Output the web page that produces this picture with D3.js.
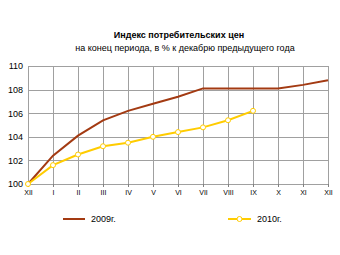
<!DOCTYPE html>
<html>
<head>
<meta charset="utf-8">
<script src="https://cdn.jsdelivr.net/npm/d3@7"></script>
<style>
  body { margin: 0; background: #fff; }
  svg text { font-family: "Liberation Sans", Arial, sans-serif; fill: #000; }
  .grid line { stroke: #a0a0a0; stroke-width: 1; }
  .axis path, .axis line { stroke: #808080; }
</style>
</head>
<body>
<div id="chart"></div>
<script>
var months = ['XII', 'I', 'II', 'III', 'IV', 'V', 'VI', 'VII', 'VIII', 'IX', 'X', 'XI', 'XII'];
var values2009 = [100, 102.4, 104.1, 105.4, 106.2, 106.8, 107.4, 108.1, 108.1, 108.1, 108.1, 108.4, 108.8];
var values2010 = [100, 101.6, 102.5, 103.2, 103.5, 104.0, 104.4, 104.8, 105.4, 106.2];
var yTicks = [100, 102, 104, 106, 108, 110];
var seriesNames = ['2009г.', '2010г.'];

var width = 340, height = 255;
var margin = {top: 66, right: 12, bottom: 71, left: 28};
var plotWidth = width - margin.left - margin.right,
    plotHeight = height - margin.top - margin.bottom;

var svg = d3.select('#chart').append('svg')
    .attr('width', width)
    .attr('height', height);

svg.append('text')
    .attr('x', 179).attr('y', 38)
    .attr('text-anchor', 'middle')
    .style('font-size', '9px')
    .style('font-weight', 'bold')
    .text('Индекс потребительских цен');

svg.append('text')
    .attr('x', 185).attr('y', 51)
    .attr('text-anchor', 'middle')
    .style('font-size', '9px')
    .text('на конец периода, в % к декабрю предыдущего года');

var g = svg.append('g')
    .attr('transform', 'translate(' + margin.left + ',' + margin.top + ')');

var xScale = d3.scalePoint()
    .domain(d3.range(months.length))
    .range([0, plotWidth]);

var yScale = d3.scaleLinear()
    .domain([100, 110])
    .range([plotHeight, 0]);

// grid
var grid = g.append('g').classed('grid', true);
grid.selectAll('.v')
    .data(d3.range(months.length))
    .enter().append('line')
    .attr('x1', function(d) { return Math.round(xScale(d)) + 0.5; })
    .attr('x2', function(d) { return Math.round(xScale(d)) + 0.5; })
    .attr('y1', 0)
    .attr('y2', plotHeight);
grid.selectAll('.h')
    .data(yTicks)
    .enter().append('line')
    .attr('x1', 0)
    .attr('x2', plotWidth)
    .attr('y1', function(d) { return Math.round(yScale(d)) + 0.5; })
    .attr('y2', function(d) { return Math.round(yScale(d)) + 0.5; });

var yAxis = d3.axisLeft(yScale)
    .tickValues(yTicks)
    .tickSize(0)
    .tickPadding(5)
    .tickFormat(d3.format('d'));

var xAxis = d3.axisBottom(xScale)
    .tickSize(3)
    .tickPadding(3)
    .tickFormat(function(i) { return months[i]; });

var ya = g.append('g').classed('axis', true).call(yAxis);
ya.select('.domain').remove();
ya.selectAll('text').style('font-size', '9px').attr('fill', '#000');

var xa = g.append('g').classed('axis', true)
    .attr('transform', 'translate(0,' + plotHeight + ')')
    .call(xAxis);
xa.select('.domain').remove();
xa.selectAll('line').attr('stroke', '#808080');
xa.selectAll('text').style('font-size', '7px').attr('fill', '#000');

var line = d3.line()
    .x(function(d, i) { return xScale(i); })
    .y(function(d) { return yScale(d); });

g.append('path')
    .datum(values2009)
    .attr('fill', 'none')
    .attr('stroke', '#a33a12')
    .attr('stroke-width', 2)
    .attr('d', line);

g.append('path')
    .datum(values2010)
    .attr('fill', 'none')
    .attr('stroke', '#ffcc00')
    .attr('stroke-width', 2)
    .attr('d', line);

g.append('g').selectAll('circle')
    .data(values2010)
    .enter().append('circle')
    .attr('cx', function(d, i) { return xScale(i); })
    .attr('cy', function(d) { return yScale(d); })
    .attr('r', 2.5)
    .attr('fill', '#fff')
    .attr('stroke', '#ffcc00')
    .attr('stroke-width', 1);

// legend
var legendY = 219;
svg.append('line')
    .attr('x1', 63).attr('x2', 85)
    .attr('y1', legendY).attr('y2', legendY)
    .attr('stroke', '#a33a12').attr('stroke-width', 2);
svg.append('text')
    .attr('x', 91).attr('y', legendY + 3)
    .style('font-size', '9px')
    .text(seriesNames[0]);

svg.append('line')
    .attr('x1', 228).attr('x2', 251)
    .attr('y1', legendY).attr('y2', legendY)
    .attr('stroke', '#ffcc00').attr('stroke-width', 2);
svg.append('circle')
    .attr('cx', 239.5).attr('cy', legendY)
    .attr('r', 2.5)
    .attr('fill', '#fff')
    .attr('stroke', '#ffcc00');
svg.append('text')
    .attr('x', 257).attr('y', legendY + 3)
    .style('font-size', '9px')
    .text(seriesNames[1]);
</script>
</body>
</html>
